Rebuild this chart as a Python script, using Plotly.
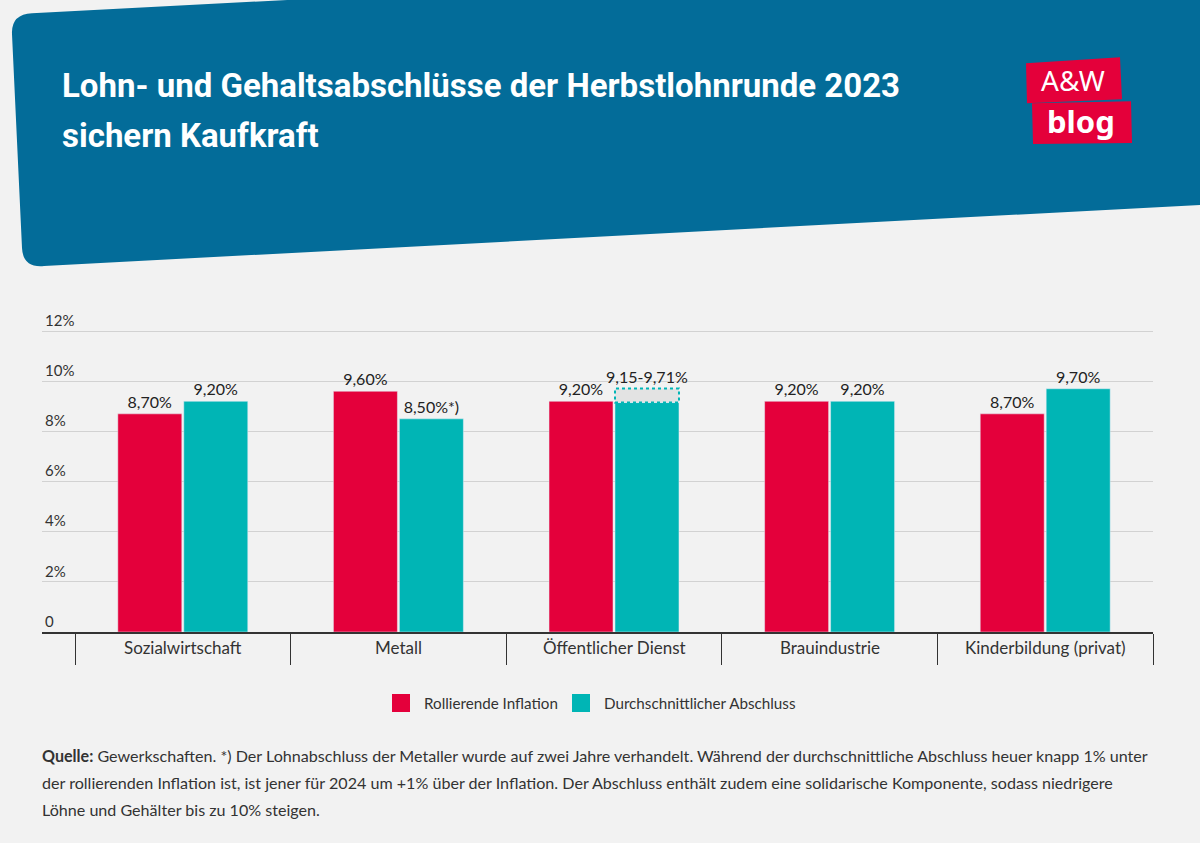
import plotly.graph_objects as go

# ---------------- data ----------------
categories = ["Sozialwirtschaft", "Metall", "Öffentlicher Dienst", "Brauindustrie", "Kinderbildung (privat)"]
inflation = [8.70, 9.60, 9.20, 9.20, 8.70]
abschluss = [9.20, 8.50, 9.15, 9.20, 9.70]
abschluss_suffix = ["", "*)", "", "", ""]
range_category = "Öffentlicher Dienst"
range_low = 9.15
range_high = 9.71
y_tickvals = [0, 2, 4, 6, 8, 10, 12]
y_ticktext = ["0", "2%", "4%", "6%", "8%", "10%", "12%"]
series_names = ["Rollierende Inflation", "Durchschnittlicher Abschluss"]

title_lines = ["Lohn- und Gehaltsabschlüsse der Herbstlohnrunde 2023", "sichern Kaufkraft"]
footnote_lines = [
    "<b>Quelle:</b> Gewerkschaften. *) Der Lohnabschluss der Metaller wurde auf zwei Jahre verhandelt. Während der durchschnittliche Abschluss heuer knapp 1% unter",
    "der rollierenden Inflation ist, ist jener für 2024 um +1% über der Inflation. Der Abschluss enthält zudem eine solidarische Komponente, sodass niedrigere",
    "Löhne und Gehälter bis zu 10% steigen.",
]

# ---------------- styles ----------------
RED = "#e4003b"
TEAL = "#00b5b5"
BLUE = "#036c99"
BG = "#f2f2f2"
TXT = "#333333"
BODY_FONT = "Lato, 'Noto Sans', sans-serif"
TITLE_FONT = "Roboto, 'Noto Sans', sans-serif"

W, H = 1200, 843
L, R, T, B = 42, 1153, 331, 632
Y_TOP = 13  # axis top so that the 12% label stays visible


def fmt(v):
    return f"{v:.2f}".replace(".", ",") + "%"


unit_px = (B - T) / 12
T_PLOT = B - Y_TOP * unit_px  # pixel top of the actual plot area

BARGAP = 0.388
GROUPGAP = 0.03
cat_px = (R - 75) / len(categories)
left_pad = (75 - L) / cat_px

fig = go.Figure()

red_text = [fmt(v) for v in inflation]
teal_text = [("" if c == range_category else fmt(v) + s) for c, v, s in zip(categories, abschluss, abschluss_suffix)]
label_font = dict(size=16, color="#222", family=BODY_FONT)

fig.add_trace(go.Bar(
    x=categories, y=inflation, name=series_names[0], marker_color=RED,
    offsetgroup="a", text=red_text, textposition="outside", cliponaxis=False,
    textfont=label_font, constraintext="none", showlegend=False,
))
fig.add_trace(go.Bar(
    x=categories, y=abschluss, name=series_names[1], marker_color=TEAL,
    offsetgroup="b", text=teal_text, textposition="outside", cliponaxis=False,
    textfont=label_font, constraintext="none", showlegend=False,
))
fig.add_trace(go.Bar(
    x=[range_category], y=[range_high - range_low], base=[range_low],
    marker_color="#e3e3e3", offsetgroup="b", showlegend=False,
    text=[f"{range_low:.2f}".replace(".", ",") + "-" + fmt(range_high)],
    textposition="outside", cliponaxis=False, constraintext="none",
    textfont=label_font, hoverinfo="skip",
))


# paper coordinates relative to the real plot area
def ppx(x):
    return (x - L) / (R - L)


def ppy(y):
    return (B - y) / (B - T_PLOT)


def pt(x, y):
    return f"{ppx(x):.5f},{ppy(y):.5f}"


# dotted frame around the range bar
idx = categories.index(range_category)
slot = (1 - BARGAP) / 2
center = idx + slot / 2
half = slot * (1 - GROUPGAP) / 2
shapes = [dict(type="rect", xref="x", yref="y", x0=center - half, x1=center + half,
               y0=range_low, y1=range_high, line=dict(color=TEAL, width=2, dash="dot"),
               fillcolor="rgba(0,0,0,0)", layer="above")]

# header band
header_path = ("M " + pt(12, 34) + " Q " + pt(11, 14) + " " + pt(32, 13) +
               " L " + pt(1215, -48) + " L " + pt(1215, 204) + " L " + pt(44, 266) +
               " Q " + pt(23, 268) + " " + pt(22, 248) + " Z")
shapes.append(dict(type="path", xref="paper", yref="paper", path=header_path,
                   fillcolor=BLUE, line=dict(width=0), layer="below"))

# logo boxes
aw_box = "M " + pt(1026, 63) + " L " + pt(1120, 57) + " L " + pt(1122, 99) + " L " + pt(1027, 103) + " Z"
blog_box = "M " + pt(1032, 103) + " L " + pt(1131, 101) + " L " + pt(1132, 143) + " L " + pt(1033, 144) + " Z"
for p in (aw_box, blog_box):
    shapes.append(dict(type="path", xref="paper", yref="paper", path=p,
                       fillcolor="#e4003a", line=dict(width=0), layer="below"))

# custom legend squares
legend_items = [(series_names[0], RED, 392, 422), (series_names[1], TEAL, 572, 602)]
annotations = []
for name, col, sx, tx in legend_items:
    shapes.append(dict(type="rect", xref="paper", yref="paper",
                       x0=ppx(sx), x1=ppx(sx + 18), y0=ppy(712), y1=ppy(694),
                       fillcolor=col, line=dict(width=0)))
    annotations.append(dict(text=name, xref="paper", yref="paper", x=ppx(tx), y=ppy(703),
                            xanchor="left", yanchor="middle", showarrow=False,
                            font=dict(family=BODY_FONT, size=15.2, color=TXT)))

for i, line in enumerate(title_lines):
    annotations.append(dict(text=line, xref="paper", yref="paper", x=ppx(60), y=ppy(85 + 50 * i),
                            xanchor="left", yanchor="middle", align="left", showarrow=False,
                            font=dict(family=TITLE_FONT, size=33, color="white", weight="bold")))
annotations.append(dict(text="A&W", xref="paper", yref="paper", x=ppx(1073), y=ppy(80),
                        xanchor="center", yanchor="middle", showarrow=False,
                        font=dict(family="'Noto Sans', sans-serif", size=28, color="white")))
annotations.append(dict(text="<b>blog</b>", xref="paper", yref="paper", x=ppx(1081), y=ppy(121),
                        xanchor="center", yanchor="middle", showarrow=False,
                        font=dict(family="'Noto Sans', sans-serif", size=31, color="white")))

# category labels between boundary ticks
for c in categories:
    annotations.append(dict(text=c, xref="x", yref="paper", x=c, y=ppy(648),
                            xanchor="center", yanchor="middle", showarrow=False,
                            font=dict(family=BODY_FONT, size=17, color=TXT)))

# footnote
for i, line in enumerate(footnote_lines):
    annotations.append(dict(text=line, xref="paper", yref="paper", x=ppx(40), y=ppy(756 + 27 * i),
                            xanchor="left", yanchor="middle", showarrow=False, align="left",
                            font=dict(family=BODY_FONT, size=16.1, color=TXT)))

fig.update_layout(
    width=W, height=H, autosize=False,
    margin=dict(l=L, r=W - R, t=T_PLOT, b=H - B, pad=0),
    paper_bgcolor=BG, plot_bgcolor=BG,
    barmode="group", bargap=BARGAP, bargroupgap=GROUPGAP,
    font=dict(family=BODY_FONT, size=15, color=TXT),
    showlegend=False,
    xaxis=dict(type="category", categoryorder="array", categoryarray=categories,
               range=[-0.5 - left_pad, len(categories) - 0.5],
               showticklabels=False, ticks="outside", tickson="boundaries", ticklen=31,
               tickcolor=TXT, tickwidth=1, showline=True, linecolor=TXT, linewidth=2,
               showgrid=False, zeroline=False, fixedrange=True),
    yaxis=dict(range=[0, Y_TOP], tickvals=y_tickvals, ticktext=y_ticktext,
               ticklabelposition="inside top", showgrid=True, gridcolor="#d2d2d2", gridwidth=1,
               zeroline=False, showline=False, ticks="",
               tickfont=dict(family=BODY_FONT, size=15, color=TXT), fixedrange=True),
    shapes=shapes,
    annotations=annotations,
)

fig.write_html("out.html")
